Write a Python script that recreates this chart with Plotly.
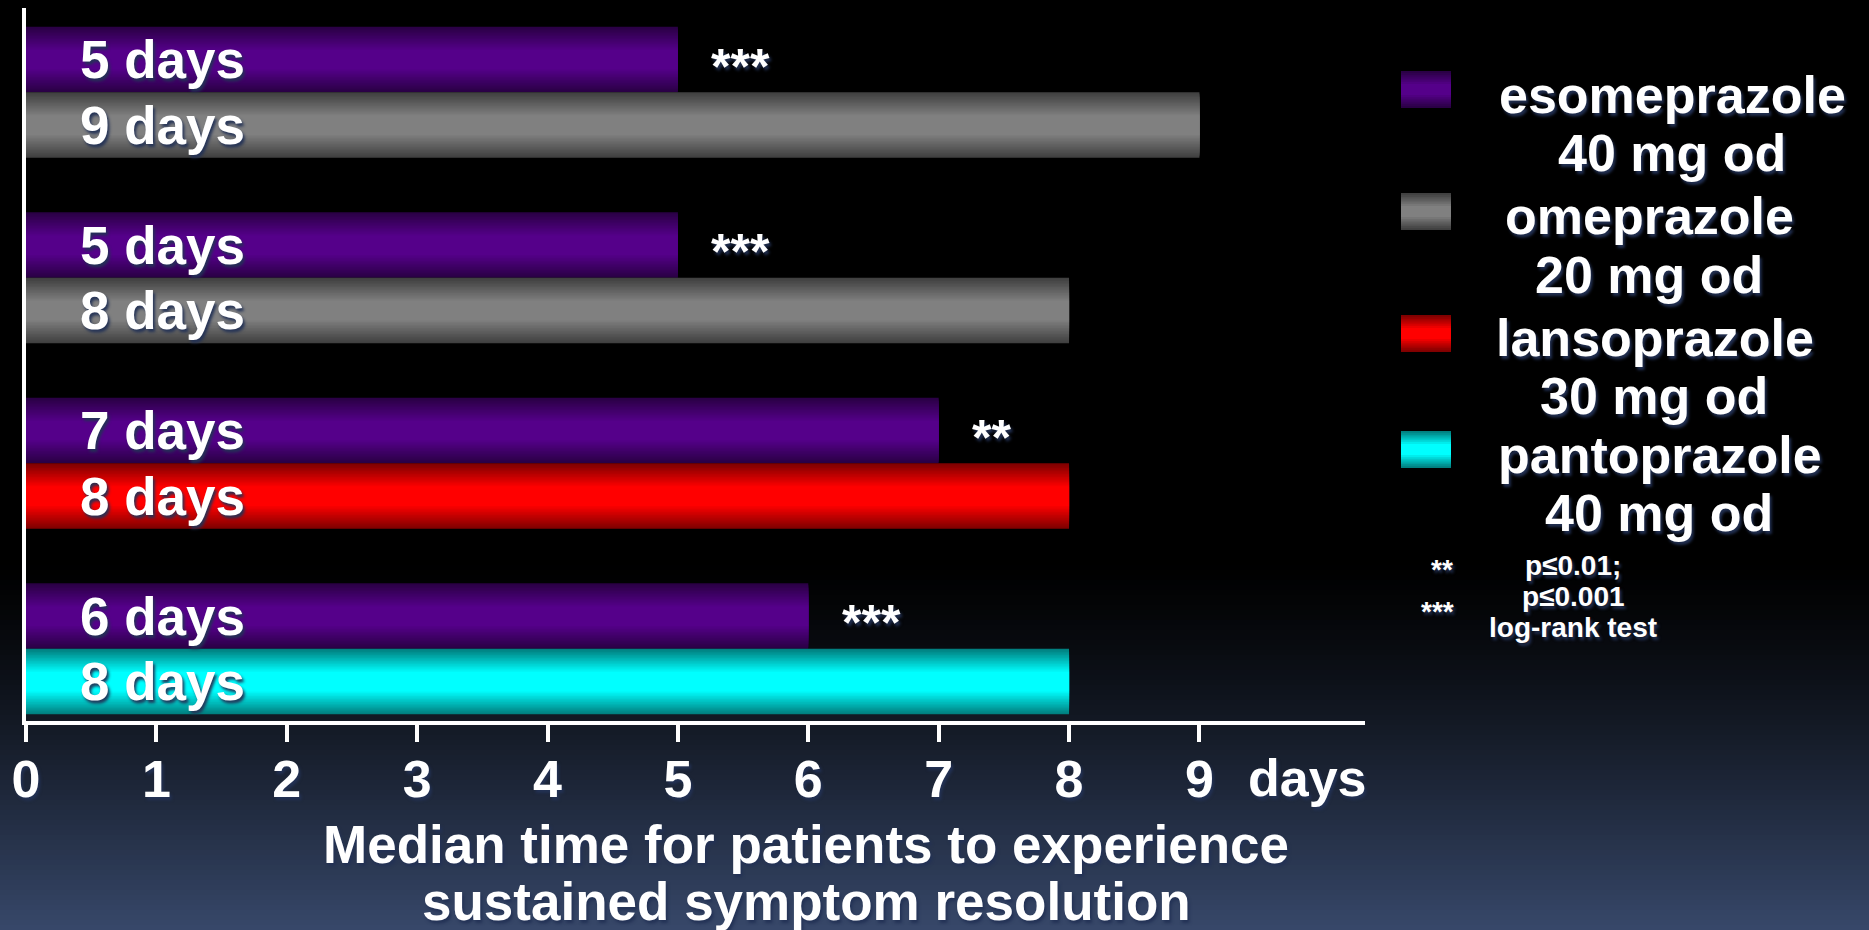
import plotly.graph_objects as go

# data
comparisons = ["vs omeprazole (1)", "vs omeprazole (2)", "vs lansoprazole", "vs pantoprazole"]
eso_days = [5, 5, 7, 6]
comparator = ["omeprazole", "omeprazole", "lansoprazole", "pantoprazole"]
comp_days = [9, 8, 8, 8]
significance = ["***", "***", "**", "***"]
x_ticks = [0, 1, 2, 3, 4, 5, 6, 7, 8, 9]

drug_names = ["esomeprazole", "omeprazole", "lansoprazole", "pantoprazole"]
drug_doses = ["40 mg od", "20 mg od", "30 mg od", "40 mg od"]
footnote_marks = ["**", "***"]
footnote_text = ["p≤0.01;", "p≤0.001", "log-rank test"]

# styling
W, H = 1869, 930
L, R, T, B = 26, 1365, 8, 721          # plot area in pixels
FONT = "Liberation Sans, Arial, sans-serif"
SHADOW = "2px 3px 3px rgba(35,50,85,0.95)"
centre = {"esomeprazole": (85, 0, 138), "omeprazole": (128, 128, 128),
          "lansoprazole": (255, 0, 0), "pantoprazole": (0, 255, 255)}
BAR = 0.353          # bar thickness in category units
NL = 16              # gradient layers per bar


def shade(rgb, c):
    return "rgb(%d,%d,%d)" % tuple(round(v * c) for v in rgb)


def px(x):
    return (x - L) / (R - L)


def py(y):
    return (B - y) / (B - T)


def font(size, color="white"):
    return dict(family=FONT, size=size, color=color, weight="bold", shadow=SHADOW)


fig = go.Figure()

# bars, drawn as stacked layers to fake the vertical shine
for k in range(NL):
    t = k / (NL - 1)
    f = 1 - 0.7 * t
    c = 0.5 + 0.5 * t
    w = BAR * f
    fig.add_trace(go.Bar(
        y=comparisons, x=eso_days, orientation="h", width=w,
        offset=-BAR + (BAR - w) / 2,
        marker=dict(color=shade(centre["esomeprazole"], c), line=dict(width=0)),
        showlegend=False, hoverinfo="skip"))
    fig.add_trace(go.Bar(
        y=comparisons, x=comp_days, orientation="h", width=w,
        offset=(BAR - w) / 2,
        marker=dict(color=[shade(centre[d], c) for d in comparator], line=dict(width=0)),
        showlegend=False, hoverinfo="skip"))

ann = []
# value labels inside bars and significance stars
for i, cat in enumerate(comparisons):
    ann.append(dict(x=0.4, y=i - BAR / 2, xref="x", yref="y", xanchor="left", yanchor="middle",
                    text="%d days" % eso_days[i], showarrow=False, font=font(53)))
    ann.append(dict(x=0.4, y=i + BAR / 2, xref="x", yref="y", xanchor="left", yanchor="middle",
                    text="%d days" % comp_days[i], showarrow=False, font=font(53)))
    ann.append(dict(x=eso_days[i] + 0.24, y=i - BAR / 2, xref="x", yref="y", xanchor="left",
                    yanchor="middle", yshift=-7, text=significance[i], showarrow=False,
                    font=font(50)))

# "days" unit after the last tick
ann.append(dict(x=9.36, y=py(778), xref="x", yref="paper", xanchor="left", yanchor="middle",
                text="days", showarrow=False, font=font(52)))

# axis title
title_lines = ["Median time for patients to experience", "sustained symptom resolution"]
for line, yy in zip(title_lines, [844, 902]):
    ann.append(dict(x=px(806), y=py(yy), xref="paper", yref="paper", xanchor="center",
                    yanchor="middle", text=line, showarrow=False, font=font(53)))

# hand-built legend
shapes = []
leg_box_y = [71, 193, 315, 431]
leg_name_xy = [(1672, 95), (1649, 216), (1655, 338), (1660, 455)]
leg_dose_xy = [(1672, 153), (1649, 275), (1654, 396), (1659, 513)]
for j, name in enumerate(drug_names):
    y0 = leg_box_y[j]
    hgt = 37
    for k in range(8):
        t = k / 7
        f = 1 - 0.7 * t
        c = 0.5 + 0.5 * t
        pad = hgt * (1 - f) / 2
        shapes.append(dict(type="rect", xref="paper", yref="paper",
                           x0=px(1401), x1=px(1451), y0=py(y0 + pad), y1=py(y0 + hgt - pad),
                           fillcolor=shade(centre[name], c), line=dict(width=0), layer="above"))
    ann.append(dict(x=px(leg_name_xy[j][0]), y=py(leg_name_xy[j][1]), xref="paper", yref="paper",
                    xanchor="center", yanchor="middle", text=name, showarrow=False, font=font(52)))
    ann.append(dict(x=px(leg_dose_xy[j][0]), y=py(leg_dose_xy[j][1]), xref="paper", yref="paper",
                    xanchor="center", yanchor="middle", text=drug_doses[j], showarrow=False,
                    font=font(52)))

# footnote
for m, (xx, yy) in zip(footnote_marks, [(1442, 569), (1438, 611)]):
    ann.append(dict(x=px(xx), y=py(yy), xref="paper", yref="paper", xanchor="center",
                    yanchor="middle", text=m, showarrow=False, font=font(28)))
for s, yy in zip(footnote_text, [565, 596, 627]):
    ann.append(dict(x=px(1573), y=py(yy), xref="paper", yref="paper", xanchor="center",
                    yanchor="middle", text=s, showarrow=False, font=font(28)))

# background: black fading to slate blue at the bottom
band = 5
for y0 in range(560, H, band):
    t = ((y0 + band / 2) - 560) / (H - 560)
    g = t ** 1.3
    shapes.append(dict(type="rect", xref="paper", yref="paper", x0=px(0), x1=px(W),
                       y0=py(y0), y1=py(y0 + band + 1),
                       fillcolor="rgb(%d,%d,%d)" % (round(55 * g), round(72 * g), round(106 * g)),
                       line=dict(width=0), layer="below"))

fig.update_layout(
    width=W, height=H, autosize=False,
    margin=dict(l=L, r=W - R, t=T, b=H - B),
    paper_bgcolor="black", plot_bgcolor="rgba(0,0,0,0)",
    barmode="overlay", showlegend=False,
    annotations=ann, shapes=shapes,
)
fig.update_xaxes(range=[0, 10.27], tickvals=x_ticks, ticktext=[str(v) for v in x_ticks],
                 showline=True, linecolor="white", linewidth=4,
                 ticks="outside", ticklen=17, tickwidth=4, tickcolor="white",
                 ticklabelstandoff=-7,
                 tickfont=font(52), showgrid=False, zeroline=False, fixedrange=True)
fig.update_yaxes(type="category", categoryorder="array", categoryarray=comparisons,
                 range=[3.389, -0.4547], showline=True, linecolor="white", linewidth=4,
                 showticklabels=False, ticks="", showgrid=False, zeroline=False, fixedrange=True)

fig.write_html("out.html", config={"displayModeBar": False},
               post_script="document.body.style.margin='0';document.body.style.background='black';")
